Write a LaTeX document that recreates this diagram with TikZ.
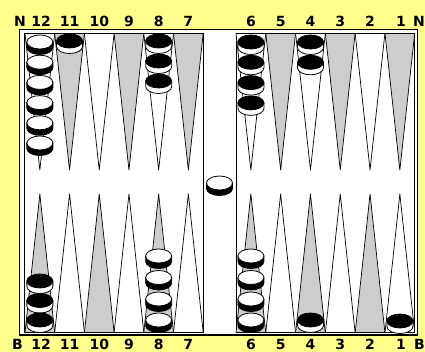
\documentclass[tikz,border=0pt]{standalone}
\usepackage{fontspec}
\newfontfamily\labfont{DejaVu Sans}
\definecolor{bgyellow}{RGB}{255,255,140}
\definecolor{ptgray}{RGB}{205,205,205}
\newcommand\tri[4]{\filldraw[pointline,fill=#2] (#1,#3) -- ({#1+29.7},#3) -- ({#1+14.85},#4) -- cycle;}
\newcommand\wchk[2]{\begin{scope}[shift={(#1,#2)}]
  \filldraw[fill=black,draw=black,line width=0.8pt] (-13,0) -- (-13,5.5) arc[start angle=180,end angle=360,x radius=13pt,y radius=7pt] -- (13,0) -- cycle;
  \filldraw[fill=white,draw=black,line width=0.8pt] (0,0) ellipse[x radius=13pt,y radius=7pt];
\end{scope}}
\newcommand\bchk[2]{\begin{scope}[shift={(#1,#2)}]
  \filldraw[fill=white,draw=black,line width=0.8pt] (-13,0) -- (-13,5.5) arc[start angle=180,end angle=360,x radius=13pt,y radius=7pt] -- (13,0) -- cycle;
  \filldraw[fill=black,draw=black,line width=0.8pt] (0,0) ellipse[x radius=13pt,y radius=7pt];
\end{scope}}
\begin{document}
\begin{tikzpicture}[x=1pt,y=-1pt,
  pointline/.style={draw=black,line width=0.7pt,line join=round},
  lab/.style={font=\labfont\bfseries\fontsize{14}{14}\selectfont,anchor=base,inner sep=0pt}]
\fill[bgyellow] (0,0) rectangle (425,352);
\useasboundingbox (0,0) rectangle (425,352);
% board
\filldraw[fill=white,draw=black,line width=1.6pt] (19.5,29.5) rectangle (417.5,334.8);
\draw[line width=0.8pt] (24,33.5) rectangle (203.2,332.5);
\draw[line width=0.8pt] (236,33.5) rectangle (414.8,332.5);
% points
\foreach \xa/\ft/\fb in {25/white/ptgray,54.7/ptgray/white,84.4/white/ptgray,114.1/ptgray/white,143.8/white/ptgray,173.5/ptgray/white,
  236/white/ptgray,265.8/ptgray/white,295.6/white/ptgray,325.4/ptgray/white,355.2/white/ptgray,385/ptgray/white}{
  \tri{\xa}{\ft}{33.5}{170}
  \tri{\xa}{\fb}{332.5}{194}
}
% top checkers
\foreach \k in {0,...,5}{\wchk{39.85}{42+20.2*\k}}
\bchk{69.55}{41}
\foreach \k in {0,1,2}{\bchk{158.65}{41+20*\k}}
\foreach \k in {0,...,3}{\bchk{250.9}{42+20.3*\k}}
\foreach \k in {0,1}{\bchk{310.5}{42+20.3*\k}}
% bottom checkers
\bchk{39.85}{281}\bchk{39.85}{300.5}\bchk{39.85}{320}
\foreach \y in {256,277.5,299,320}{\wchk{158.65}{\y}\wchk{250.9}{\y}}
\bchk{310.5}{320}
\bchk{399.9}{321}
% bar checker
\wchk{219.5}{183}
% labels
\node[lab] (tN) at (20,26.5) {N};
\node[lab] (t12) at (41,26.5) {12};
\node[lab] (t11) at (69.55,26.5) {11};
\node[lab] (t10) at (99.25,26.5) {10};
\node[lab] (t9) at (128.95,26.5) {9};
\node[lab] (t8) at (158.65,26.5) {8};
\node[lab] (t7) at (188.35,26.5) {7};
\node[lab] (t6) at (250.9,26.5) {6};
\node[lab] (t5) at (280.7,26.5) {5};
\node[lab] (t4) at (310.5,26.5) {4};
\node[lab] (t3) at (340.3,26.5) {3};
\node[lab] (t2) at (370.1,26.5) {2};
\node[lab] (t1) at (401,26.5) {1};
\node[lab] (tNr) at (419,26.5) {N};
\node[lab] (bB) at (17.5,349.5) {B};
\node[lab] (b12) at (41,349.5) {12};
\node[lab] (b11) at (69.55,349.5) {11};
\node[lab] (b10) at (99.25,349.5) {10};
\node[lab] (b9) at (128.95,349.5) {9};
\node[lab] (b8) at (158.65,349.5) {8};
\node[lab] (b7) at (188.35,349.5) {7};
\node[lab] (b6) at (250.9,349.5) {6};
\node[lab] (b5) at (280.7,349.5) {5};
\node[lab] (b4) at (310.5,349.5) {4};
\node[lab] (b3) at (340.3,349.5) {3};
\node[lab] (b2) at (370.1,349.5) {2};
\node[lab] (b1) at (401,349.5) {1};
\node[lab] (bBr) at (419.5,349.5) {B};
\end{tikzpicture}
\end{document}
